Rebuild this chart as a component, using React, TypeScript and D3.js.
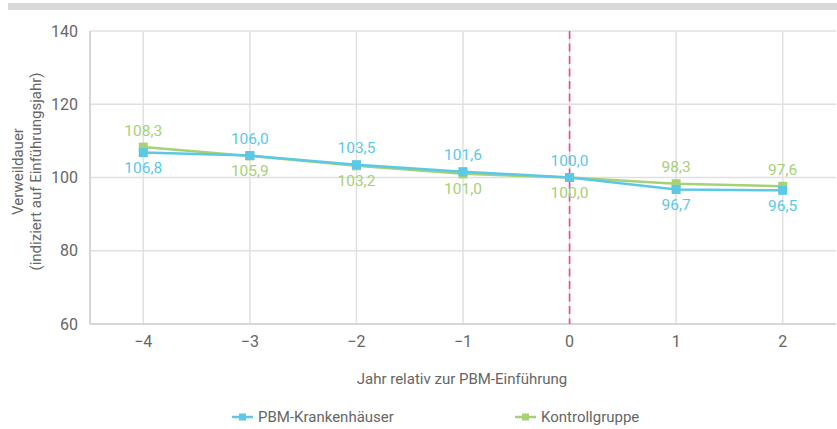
import React from "react";
import * as d3 from "d3";

const years = [-4, -3, -2, -1, 0, 1, 2];
const pbmValues = [106.8, 106.0, 103.5, 101.6, 100.0, 96.7, 96.5];
const controlValues = [108.3, 105.9, 103.2, 101.0, 100.0, 98.3, 97.6];
// label placement per point: true = PBM label above the marker
const pbmAbove = [false, true, true, true, true, false, false];
const yTicks = [60, 80, 100, 120, 140];
const seriesNames = ["PBM-Krankenhäuser", "Kontrollgruppe"];

const W = 837;
const H = 429;
const BLUE = "#5bc8e6";
const GREEN = "#a6d176";
const TEXT = "#666666";
const GRID = "#e0e0e0";
const FONT = "Roboto, 'Open Sans', sans-serif";

const fmt = (v: number) => v.toFixed(1).replace(".", ",");

export default function App() {
  const left = 90;
  const right = 836;
  const top = 31;
  const bottom = 324;

  const x = d3.scaleLinear().domain([-4.5, 2.5]).range([left, right]);
  const y = d3.scaleLinear().domain([60, 140]).range([bottom, top]);

  const line = d3
    .line<number>()
    .x((_, i) => x(years[i]))
    .y((d) => y(d));

  const series = [
    { name: seriesNames[0], values: pbmValues, color: BLUE },
    { name: seriesNames[1], values: controlValues, color: GREEN },
  ];

  return (
    <svg
      width={W}
      height={H}
      style={{ position: "absolute", left: 0, top: 0, display: "block" }}
      fontFamily={FONT}
    >
      <rect x={0} y={0} width={W} height={H} fill="#ffffff" />
      <rect x={8} y={3} width={W - 8} height={7} fill="#d9dadb" />

      {/* horizontal gridlines */}
      {yTicks.map((t) => (
        <line
          key={"h" + t}
          x1={left}
          x2={right}
          y1={y(t)}
          y2={y(t)}
          stroke={GRID}
          strokeWidth={1.5}
        />
      ))}
      {/* vertical gridlines */}
      {years.map((yr) => (
        <line
          key={"v" + yr}
          x1={x(yr)}
          x2={x(yr)}
          y1={top}
          y2={bottom}
          stroke={GRID}
          strokeWidth={1.5}
        />
      ))}
      {/* axes */}
      <line x1={left} x2={left} y1={top} y2={bottom} stroke="#d6d6d6" strokeWidth={2} />
      <line x1={left} x2={right} y1={bottom} y2={bottom} stroke="#d6d6d6" strokeWidth={2} />

      {/* introduction year marker */}
      <line
        x1={x(0)}
        x2={x(0)}
        y1={top}
        y2={bottom}
        stroke="#ec4a98"
        strokeWidth={1.6}
        strokeDasharray="8,4.5"
      />

      {/* y tick labels */}
      {yTicks.map((t) => (
        <text
          key={"yt" + t}
          x={78}
          y={y(t)}
          dy="0.35em"
          textAnchor="end"
          fontSize={16}
          fill={TEXT}
        >
          {t}
        </text>
      ))}
      {/* x tick labels */}
      {years.map((yr) => (
        <text
          key={"xt" + yr}
          x={x(yr)}
          y={341}
          dy="0.35em"
          textAnchor="middle"
          fontSize={16}
          fill={TEXT}
        >
          {yr < 0 ? "\u2212" + Math.abs(yr) : String(yr)}
        </text>
      ))}

      {/* axis titles */}
      <text
        transform={`translate(27, ${(top + bottom) / 2 - 6}) rotate(-90)`}
        textAnchor="middle"
        fontSize={15}
        fill={TEXT}
      >
        <tspan x={0} dy="-0.3em">Verweildauer</tspan>
        <tspan x={0} dy="1.2em">(indiziert auf Einführungsjahr)</tspan>
      </text>
      <text x={462} y={379} dy="0.35em" textAnchor="middle" fontSize={15} fill={TEXT}>
        Jahr relativ zur PBM-Einführung
      </text>

      {/* series lines */}
      {[series[1], series[0]].map((s) => (
        <g key={s.name}>
          <path d={line(s.values) ?? ""} fill="none" stroke={s.color} strokeWidth={2.5} />
          {s.values.map((v, i) => (
            <rect
              key={i}
              x={x(years[i]) - 4.5}
              y={y(v) - 4.5}
              width={9}
              height={9}
              fill={s.color}
            />
          ))}
        </g>
      ))}

      {/* data labels */}
      {pbmValues.map((v, i) => (
        <text
          key={"lb" + i}
          x={x(years[i])}
          y={pbmAbove[i] ? y(v) - 17 : y(v) + 15}
          dy="0.35em"
          textAnchor="middle"
          fontSize={15.5}
          fill={BLUE}
        >
          {fmt(v)}
        </text>
      ))}
      {controlValues.map((v, i) => (
        <text
          key={"lg" + i}
          x={x(years[i])}
          y={pbmAbove[i] ? y(v) + 15 : y(v) - 17}
          dy="0.35em"
          textAnchor="middle"
          fontSize={15.5}
          fill={GREEN}
        >
          {fmt(v)}
        </text>
      ))}

      {/* legend */}
      {series.map((s, i) => {
        const lx = i === 0 ? 232 : 515;
        const ly = 417;
        return (
          <g key={"leg" + i}>
            <line x1={lx} x2={lx + 21} y1={ly} y2={ly} stroke={s.color} strokeWidth={2.5} />
            <rect x={lx + 7} y={ly - 3.5} width={7} height={7} fill={s.color} />
            <text x={lx + 26} y={ly} dy="0.35em" fontSize={15} fill={TEXT}>
              {s.name}
            </text>
          </g>
        );
      })}
    </svg>
  );
}
